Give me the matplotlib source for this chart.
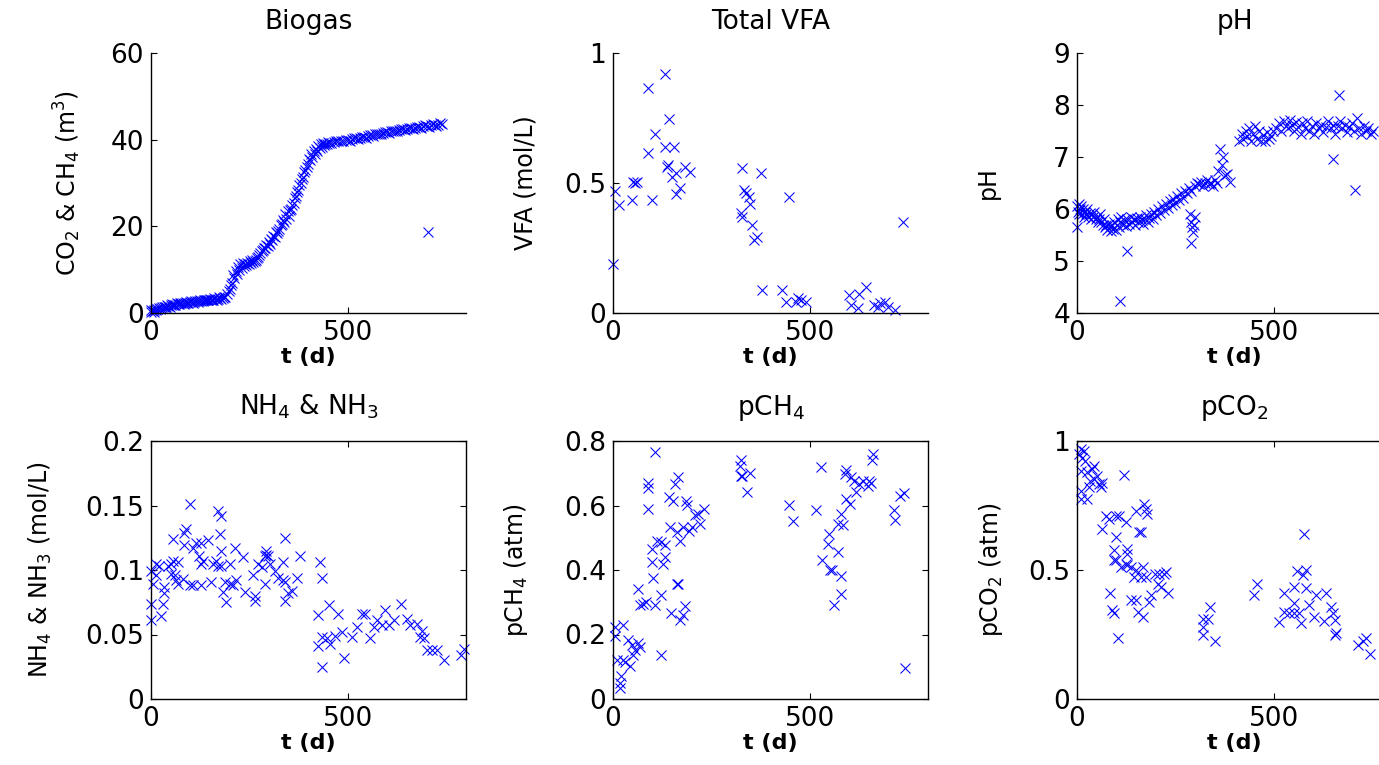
import matplotlib
matplotlib.use("Agg")
import matplotlib.pyplot as plt
from matplotlib.ticker import FormatStrFormatter

plt.rcParams["font.family"] = ["DejaVu Sans"]
plt.rcParams["mathtext.default"] = "regular"

# --- Biogas: cumulative CO2 & CH4 (m3) ---
biogas_t = [0, 4, 8, 12, 16, 20, 26, 32, 38, 44, 50, 56, 62, 68, 74, 80, 86, 92, 98,
            104, 110, 116, 122, 128, 134, 140, 146, 152, 158, 164, 170, 176, 182, 188,
            194, 200, 206, 212, 218, 224, 230, 236, 242, 248, 254, 260, 266, 272, 278,
            284, 290, 296, 302, 308, 314, 320, 326, 332, 338, 344, 350, 356, 362, 368,
            374, 380, 386, 392, 398, 404, 410, 416, 422, 428, 434, 440, 446, 452, 458,
            464, 470, 476, 482, 488, 494, 500, 510, 520, 530, 540, 550, 560, 570, 580,
            590, 600, 610, 620, 630, 640, 650, 660, 670, 680, 690, 700, 710, 720, 730,
            740, 703]
biogas_v = [0.2, 0.5, 0.8, 0.6, 1.0, 1.1, 1.2, 1.4, 1.5, 1.6, 1.8, 1.9, 1.9, 2.1, 2.2,
            2.2, 2.3, 2.4, 2.5, 2.5, 2.6, 2.7, 2.8, 2.8, 2.9, 3.0, 3.0, 3.1, 3.1, 3.2,
            3.3, 3.4, 3.5, 3.8, 4.5, 5.5, 7.0, 8.0, 9.0, 10.0, 10.5, 10.8, 11.0, 11.2,
            11.5, 11.8, 12.3, 13.0, 13.8, 14.5, 15.0, 15.5, 16.0, 16.8, 17.5, 18.5, 19.5,
            20.5, 21.0, 21.8, 22.5, 24.0, 25.5, 27.0, 28.5, 30.0, 31.5, 33.0, 34.3, 35.2,
            36.0, 36.8, 37.5, 38.0, 38.4, 38.7, 39.0, 39.2, 39.3, 39.5, 39.6, 39.7, 39.8,
            39.8, 39.9, 40.0, 40.1, 40.3, 40.5, 40.6, 40.8, 41.0, 41.2, 41.3, 41.5, 41.7,
            41.9, 42.0, 42.2, 42.4, 42.5, 42.7, 42.8, 43.0, 43.1, 43.2, 43.3, 43.4, 43.5,
            43.6, 18.8]
# second, interleaved set of biogas readings (makes the band look thick)
biogas_t2 = [1, 7, 14, 23, 29, 35, 41, 47, 53, 59, 65, 71, 77, 83, 89, 95, 101, 107,
             113, 119, 125, 131, 137, 143, 149, 155, 161, 167, 173, 179, 185, 197, 203,
             209, 215, 221, 227, 233, 239, 245, 251, 257, 263, 269, 275, 281, 287, 293,
             299, 305, 311, 317, 323, 329, 335, 341, 347, 353, 359, 365, 371, 377, 383,
             389, 395, 401, 407, 413, 419, 425, 431, 437, 443, 449, 505, 515, 525, 535,
             545, 555, 565, 575, 585, 595, 605, 615, 625, 635, 645, 655, 665, 675, 685,
             695, 705, 715, 725, 735]
biogas_v2 = [0.6, 0.3, 1.0, 0.9, 1.5, 1.3, 1.8, 1.5, 2.0, 1.8, 2.2, 2.0, 2.4, 2.1, 2.5,
             2.3, 2.7, 2.4, 2.8, 2.6, 3.0, 2.7, 3.1, 2.9, 3.3, 3.0, 3.4, 3.1, 3.6, 3.2,
             3.7, 5.0, 6.5, 8.8, 9.8, 10.6, 11.2, 11.5, 11.3, 11.6, 11.9, 12.2, 12.0,
             12.6, 13.5, 14.2, 15.0, 15.8, 16.3, 17.0, 17.8, 18.8, 19.0, 20.2, 21.5,
             22.8, 23.5, 23.8, 25.0, 26.5, 28.0, 29.5, 31.0, 32.5, 33.8, 35.5, 36.8,
             37.5, 37.8, 38.5, 38.9, 39.2, 39.0, 39.4, 39.8, 40.3, 40.2, 40.7, 40.5,
             41.0, 40.9, 41.4, 41.2, 41.7, 41.6, 42.1, 41.9, 42.4, 42.2, 42.7, 42.5,
             43.0, 42.8, 43.3, 43.0, 43.6, 43.2, 43.8]

# --- Total VFA (mol/L) ---
vfa_t = [1, 5, 16, 48, 52, 60, 56, 90, 90, 99, 107, 131, 141, 133, 154, 137, 140, 150,
         160, 171, 161, 184, 196, 328, 375, 332, 337, 345, 349, 324, 328, 354, 358, 365,
         379, 447, 430, 439, 469, 477, 490, 465, 600, 604, 626, 643, 622, 664, 677, 690,
         698, 715, 736, 673]
vfa_v = [0.19, 0.47, 0.415, 0.435, 0.505, 0.505, 0.50, 0.864, 0.614, 0.435, 0.69, 0.918,
         0.745, 0.64, 0.64, 0.563, 0.57, 0.524, 0.537, 0.48, 0.458, 0.563, 0.543, 0.556,
         0.54, 0.473, 0.46, 0.447, 0.42, 0.383, 0.37, 0.338, 0.281, 0.294, 0.088, 0.445,
         0.088, 0.044, 0.056, 0.05, 0.044, 0.044, 0.069, 0.031, 0.075, 0.101, 0.018,
         0.031, 0.037, 0.044, 0.025, 0.012, 0.351, 0.025]

# --- pH ---
ph_t = [0, 2, 4, 6, 8, 10, 12, 15, 18, 20, 23, 26, 29, 32, 35, 38, 41, 44, 47, 50, 53,
        56, 59, 62, 65, 68, 71, 74, 77, 80, 83, 86, 89, 92, 95, 98, 0,
        101, 104, 107, 110, 113, 116, 120, 124, 128, 132, 136, 140, 144, 148, 152, 156,
        160, 164, 168, 172, 176, 180, 184, 188, 192, 196, 200, 205, 210, 215, 220, 225,
        230, 235, 240, 245, 250, 255, 260, 265, 270, 275, 280, 285, 290,
        288, 290, 292, 295, 290, 297, 299,
        300, 305, 310, 315, 320, 325, 330, 335, 340, 345, 350, 355,
        359, 362, 371, 380, 388, 375, 368, 110, 127,
        412, 418, 422, 428, 432, 438, 442, 448, 452, 458, 462, 468, 472, 478, 482, 488,
        492, 498, 505, 512, 518, 525, 530, 536, 540, 546, 552, 556, 562, 568, 572, 578,
        584, 590, 596, 602, 608, 614, 620, 626, 632, 638, 644, 650, 656, 662, 668, 674,
        680, 686, 692, 698, 704, 710, 716, 722, 728, 734, 740, 746, 752,
        666, 650, 705]
ph_v = [6.05, 5.95, 6.1, 5.9, 6.0, 6.05, 5.9, 6.0, 5.85, 5.95, 5.9, 6.0, 5.85, 5.92,
        5.8, 5.9, 5.85, 5.95, 5.8, 5.85, 5.75, 5.8, 5.9, 5.75, 5.7, 5.8, 5.65, 5.7, 5.6,
        5.72, 5.65, 5.58, 5.7, 5.62, 5.75, 5.6, 5.65,
        5.7, 5.8, 5.65, 5.75, 5.85, 5.7, 5.78, 5.68, 5.8, 5.72, 5.85, 5.75, 5.8, 5.7,
        5.82, 5.75, 5.85, 5.78, 5.72, 5.8, 5.88, 5.75, 5.82, 5.9, 5.8, 5.95, 5.88, 6.0,
        5.92, 6.05, 5.98, 6.1, 6.02, 6.15, 6.08, 6.2, 6.12, 6.25, 6.18, 6.3, 6.22, 6.35,
        6.3, 6.4, 6.35,
        5.9, 5.75, 5.65, 5.55, 5.35, 5.7, 5.85,
        6.45, 6.5, 6.48, 6.52, 6.45, 6.5, 6.55, 6.48, 6.5, 6.45, 6.55, 6.5,
        6.74, 7.16, 7.0, 6.68, 6.52, 6.65, 6.85, 4.24, 5.2,
        7.3, 7.45, 7.35, 7.5, 7.4, 7.55, 7.3, 7.45, 7.6, 7.35, 7.5, 7.3, 7.42, 7.3, 7.48,
        7.35, 7.4, 7.5, 7.55, 7.65, 7.5, 7.7, 7.6, 7.55, 7.72, 7.62, 7.5, 7.68, 7.58,
        7.45, 7.65, 7.55, 7.7, 7.5, 7.6, 7.45, 7.65, 7.55, 7.62, 7.48, 7.58, 7.7, 7.55,
        7.62, 7.45, 7.6, 7.7, 7.55, 7.62, 7.48, 7.58, 7.65, 7.5, 7.75, 7.55, 7.45, 7.6,
        7.5, 7.55, 7.45, 7.5,
        8.19, 6.97, 6.37]

# --- NH4 & NH3 (mol/L) ---
nh_t = [0, 4, 0, 0, 26, 30, 13, 21, 13, 34, 34, 43, 51, 51, 60, 64, 55, 68, 55, 85, 89,
        85, 98, 106, 115, 128, 145, 123, 132, 128, 98, 106, 128, 68, 81, 153, 170, 177,
        174, 179, 157, 170, 179, 200, 166, 187, 200, 183, 191, 208, 217, 213, 234, 238,
        264, 264, 259, 272, 281, 289, 293, 298, 293, 289, 302, 315, 323, 336, 340, 336,
        340, 340, 349, 357, 370, 378, 430, 434, 425, 451, 476, 425, 434, 447, 455, 468,
        485, 434, 489, 510, 523, 536, 544, 557, 566, 574, 595, 587, 604, 616, 634, 651,
        659, 676, 689, 684, 693, 701, 714, 727, 744, 787, 795]
nh_v = [0.0995, 0.089, 0.074, 0.061, 0.064, 0.074, 0.105, 0.103, 0.096, 0.082, 0.087,
        0.103, 0.105, 0.097, 0.096, 0.092, 0.107, 0.106, 0.124, 0.129, 0.132, 0.119,
        0.151, 0.117, 0.121, 0.121, 0.123, 0.111, 0.107, 0.105, 0.088, 0.088, 0.088,
        0.089, 0.093, 0.091, 0.146, 0.142, 0.128, 0.115, 0.105, 0.103, 0.103, 0.105,
        0.107, 0.091, 0.089, 0.083, 0.075, 0.088, 0.092, 0.117, 0.110, 0.083, 0.080,
        0.076, 0.096, 0.105, 0.102, 0.111, 0.112, 0.111, 0.115, 0.089, 0.105, 0.099,
        0.094, 0.106, 0.125, 0.092, 0.091, 0.076, 0.082, 0.084, 0.094, 0.111, 0.106,
        0.094, 0.065, 0.073, 0.066, 0.041, 0.048, 0.047, 0.043, 0.049, 0.052, 0.025,
        0.032, 0.048, 0.056, 0.066, 0.066, 0.047, 0.056, 0.061, 0.069, 0.057, 0.057,
        0.061, 0.074, 0.062, 0.057, 0.058, 0.053, 0.048, 0.047, 0.038, 0.038, 0.038,
        0.030, 0.034, 0.039]

# --- pCH4 (atm) ---
pch4_t = [106, 89, 89, 89, 102, 98, 98, 64, 68, 77, 85, 106, 123, 132, 128, 111, 123,
          132, 141, 153, 158, 166, 145, 162, 170, 179, 192, 200, 186, 187, 209, 217, 221,
          230, 162, 166, 147, 170, 177, 183, 121, 4, 26, 4, 38, 47, 55, 64, 68, 9, 26,
          30, 43, 21, 17, 17, 51, 324, 322, 324, 328, 349, 341, 447, 458, 528, 515, 592,
          588, 605, 613, 626, 634, 647, 651, 656, 617, 592, 601, 660, 658, 578, 584, 571,
          549, 545, 572, 530, 552, 555, 578, 578, 560, 714, 717, 728, 739, 741]
pch4_v = [0.767, 0.671, 0.654, 0.589, 0.375, 0.464, 0.425, 0.342, 0.291, 0.296, 0.301,
          0.291, 0.322, 0.44, 0.42, 0.49, 0.486, 0.476, 0.625, 0.615, 0.666, 0.687, 0.533,
          0.517, 0.49, 0.533, 0.522, 0.533, 0.615, 0.603, 0.569, 0.574, 0.543, 0.589,
          0.358, 0.356, 0.267, 0.245, 0.26, 0.288, 0.137, 0.224, 0.229, 0.195, 0.183,
          0.168, 0.152, 0.173, 0.162, 0.121, 0.121, 0.116, 0.101, 0.07, 0.049, 0.034,
          0.137, 0.74, 0.723, 0.692, 0.692, 0.702, 0.641, 0.603, 0.553, 0.72, 0.587, 0.71,
          0.699, 0.687, 0.677, 0.668, 0.675, 0.661, 0.677, 0.671, 0.641, 0.62, 0.605,
          0.759, 0.742, 0.574, 0.538, 0.543, 0.512, 0.481, 0.456, 0.43, 0.399, 0.399,
          0.38, 0.325, 0.291, 0.586, 0.555, 0.63, 0.639, 0.096]

# --- pCO2 (atm) ---
pco2_t = [9, 17, 4, 13, 21, 43, 38, 9, 26, 51, 43, 34, 64, 56, 30, 9, 60, 9, 26, 120,
          73, 81, 98, 107, 124, 64, 150, 171, 175, 179, 158, 162, 98, 94, 128, 128, 94,
          98, 124, 128, 137, 111, 150, 167, 145, 162, 175, 197, 209, 222, 226, 205, 214,
          231, 188, 184, 137, 150, 85, 90, 94, 154, 167, 103, 321, 333, 338, 321, 321,
          350, 457, 449, 577, 560, 581, 573, 551, 581, 526, 607, 632, 551, 589, 526, 538,
          551, 564, 513, 568, 603, 628, 645, 650, 654, 658, 654, 714, 726, 735, 744]
pco2_v = [0.968, 0.961, 0.949, 0.936, 0.923, 0.904, 0.891, 0.884, 0.878, 0.865, 0.852,
          0.846, 0.839, 0.833, 0.82, 0.807, 0.82, 0.775, 0.775, 0.868, 0.711, 0.698,
          0.711, 0.711, 0.685, 0.659, 0.730, 0.756, 0.737, 0.717, 0.647, 0.647, 0.627,
          0.576, 0.582, 0.563, 0.537, 0.537, 0.524, 0.518, 0.512, 0.512, 0.499, 0.512,
          0.473, 0.473, 0.473, 0.486, 0.486, 0.486, 0.492, 0.447, 0.434, 0.409, 0.402,
          0.377, 0.383, 0.383, 0.409, 0.344, 0.332, 0.338, 0.319, 0.235, 0.312, 0.312,
          0.357, 0.28, 0.248, 0.226, 0.447, 0.402, 0.638, 0.496, 0.499, 0.479, 0.434,
          0.432, 0.411, 0.402, 0.411, 0.373, 0.364, 0.338, 0.334, 0.334, 0.334, 0.299,
          0.296, 0.316, 0.303, 0.355, 0.332, 0.308, 0.254, 0.248, 0.21, 0.226, 0.235,
          0.175]

panels = [
    # (t, v, title, ylabel, ylim, yticks, boxed)
    (biogas_t + biogas_t2, biogas_v + biogas_v2, "Biogas", "CO$_2$ & CH$_4$ (m$^3$)",
     (0, 60), [0, 20, 40, 60], False),
    (vfa_t, vfa_v, "Total VFA", "VFA (mol/L)", (0, 1), [0, 0.5, 1], False),
    (ph_t, ph_v, "pH", "pH", (4, 9), [4, 5, 6, 7, 8, 9], False),
    (nh_t, nh_v, "NH$_4$ & NH$_3$", "NH$_4$ & NH$_3$ (mol/L)", (0, 0.2),
     [0, 0.05, 0.1, 0.15, 0.2], True),
    (pch4_t, pch4_v, "pCH$_4$", "pCH$_4$ (atm)", (0, 0.8), [0, 0.2, 0.4, 0.6, 0.8], True),
    (pco2_t, pco2_v, "pCO$_2$", "pCO$_2$ (atm)", (0, 1), [0, 0.5, 1], True),
]

W, H = 1379, 765
fig = plt.figure(figsize=(W / 100, H / 100), dpi=100)

lefts = [151, 613, 1077]
width = 315
rows = [(53, 313), (441, 699)]
title_pad = [17, 19]
# where the right edge of each y label sits, in pixels from the axes left edge
ylabel_gap = [68, 76, 77, 97, 83, 72]

for i, (t, v, title, ylabel, ylim, yticks, boxed) in enumerate(panels):
    r, c = divmod(i, 3)
    top, bot = rows[r]
    ax = fig.add_axes([lefts[c] / W, 1 - bot / H, width / W, (bot - top) / H])
    ax.plot(t, v, "x", color="blue", ms=7.5, mew=0.75, clip_on=False)
    ax.set_xlim(0, 800)
    ax.set_ylim(*ylim)
    ax.set_xticks([0, 500])
    ax.set_yticks(yticks)
    ax.yaxis.set_major_formatter(FormatStrFormatter("%g"))
    ax.set_title(title, fontsize=19, pad=title_pad[r])
    ax.set_xlabel("t (d)", fontsize=16, fontweight="bold", labelpad=1)
    ax.set_ylabel(ylabel, fontsize=17)
    ax.yaxis.set_label_coords(-ylabel_gap[i] / width, 0.5)
    ax.tick_params(direction="in", length=4, width=0.8, labelsize=19, pad=5,
                   top=boxed, right=boxed)
    for side in ["top", "right"]:
        ax.spines[side].set_visible(boxed)
    for s in ax.spines.values():
        s.set_linewidth(1.0)

fig.savefig("out.png", dpi=100)
